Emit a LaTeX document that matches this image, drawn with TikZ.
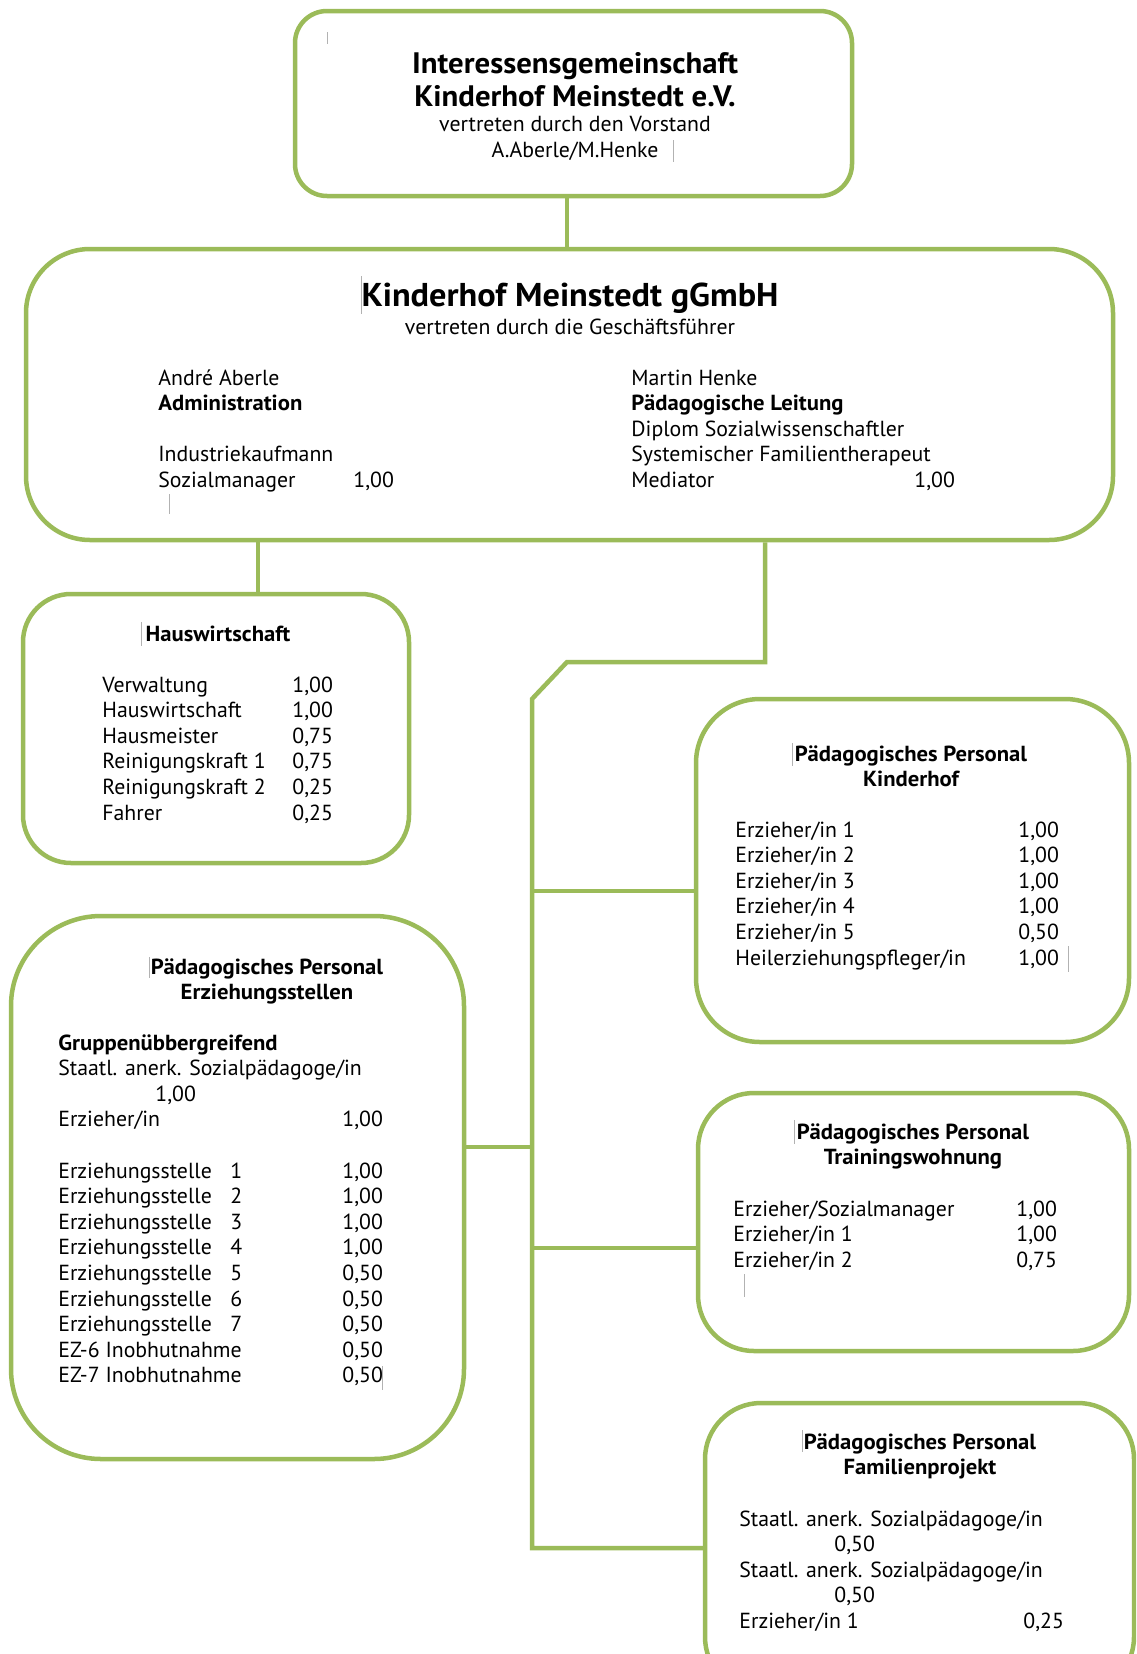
\documentclass[tikz,border=0pt]{standalone}
\usepackage{fontspec}
\setmainfont{PT Sans}[BoldFeatures={FakeStretch=1.04}]
\usetikzlibrary{fit}

\definecolor{kgreen}{HTML}{9BBB59}
\newcommand{\body}{\fontsize{10.9}{12.8}\selectfont}

\tikzset{
    box/.style={draw=kgreen, line width=2.25pt, inner sep=0pt},
    conn/.style={draw=kgreen, line width=2.25pt},
    txt/.style={inner sep=0pt, anchor=base west, font=\body},
    ctxt/.style={inner sep=0pt, anchor=base, font=\body},
    head/.style={inner sep=0pt, anchor=base, font=\body\bfseries},
    cursor/.style={draw=black!30, line width=0.4pt}
}

\begin{document}
\begin{tikzpicture}[x=0.5pt, y=-0.5pt]
        \useasboundingbox (0,0) rectangle (1136,1654);
        \clip (0,0) rectangle (1136,1654);

        % boxes
        \node[box, rounded corners=16pt, fit={(295,11) (852,196)}] (ig) {};
        \node[box, rounded corners=32pt, fit={(26,249) (1113,540)}] (gmbh) {};
        \node[box, rounded corners=24pt, fit={(23,594) (409,863)}] (haus) {};
        \node[box, rounded corners=32pt, fit={(696,699) (1129,1042)}] (kinder) {};
        \node[box, rounded corners=45pt, fit={(11,916) (464,1459)}] (erz) {};
        \node[box, rounded corners=28pt, fit={(698,1093) (1129,1351)}] (train) {};
        \node[box, rounded corners=28pt, fit={(705,1403) (1134,1693)}] (fam) {};

        % Interessensgemeinschaft
        \node[head, font=\fontsize{14.8}{16.6}\selectfont\bfseries] (igname) at (575,73) {
            \begin{tabular}[t]{@{}c@{}}
                Interessensgemeinschaft \\
                Kinderhof Meinstedt e.V.
            \end{tabular}
        };
        \node[ctxt] (igsub) at (575,131.5) {
            \begin{tabular}[t]{@{}c@{}}
                vertreten durch den Vorstand \\
                A.Aberle/M.Henke
            \end{tabular}
        };

        % gGmbH
        \node[head, font=\fontsize{16.5}{19}\selectfont\bfseries] (gmbhname) at (570,306) {Kinderhof Meinstedt gGmbH};
        \node[ctxt] (gmbhsub) at (570,334) {vertreten durch die Geschäftsführer};
        \node[txt] (aberle) at (158,385) {
            \begin{tabular}[t]{@{}p{97.5pt}@{}l@{}}
                \multicolumn{2}{@{}l@{}}{André Aberle} \\
                \multicolumn{2}{@{}l@{}}{\textbf{Administration}} \\
                & \\
                \multicolumn{2}{@{}l@{}}{Industriekaufmann} \\
                Sozialmanager & 1,00
            \end{tabular}
        };
        \node[txt] (henke) at (631,385) {
            \begin{tabular}[t]{@{}p{141.5pt}@{}l@{}}
                \multicolumn{2}{@{}l@{}}{Martin Henke} \\
                \multicolumn{2}{@{}l@{}}{\textbf{Pädagogische Leitung}} \\
                \multicolumn{2}{@{}l@{}}{Diplom Sozialwissenschaftler} \\
                \multicolumn{2}{@{}l@{}}{Systemischer Familientherapeut} \\
                Mediator & 1,00
            \end{tabular}
        };

        % Hauswirtschaft
        \node[head] (haustitle) at (218,641) {Hauswirtschaft};
        \node[txt] (hausrows) at (102,692) {
            \begin{tabular}[t]{@{}p{95pt}@{}l@{}}
                Verwaltung & 1,00 \\
                Hauswirtschaft & 1,00 \\
                Hausmeister & 0,75 \\
                Reinigungskraft 1 & 0,75 \\
                Reinigungskraft 2 & 0,25 \\
                Fahrer & 0,25
            \end{tabular}
        };

        % Kinderhof
        \node[head] (kindertitle) at (911,761) {
            \begin{tabular}[t]{@{}c@{}}
                Pädagogisches Personal \\
                Kinderhof
            \end{tabular}
        };
        \node[txt] (kinderrows) at (735,837) {
            \begin{tabular}[t]{@{}p{141.5pt}@{}l@{}}
                Erzieher/in 1 & 1,00 \\
                Erzieher/in 2 & 1,00 \\
                Erzieher/in 3 & 1,00 \\
                Erzieher/in 4 & 1,00 \\
                Erzieher/in 5 & 0,50 \\
                Heilerziehungspfleger/in & 1,00
            \end{tabular}
        };

        % Erziehungsstellen
        \node[head] (erztitle) at (267,974) {
            \begin{tabular}[t]{@{}c@{}}
                Pädagogisches Personal \\
                Erziehungsstellen
            \end{tabular}
        };
        \node[txt] (erzrows) at (58,1050) {
            \begin{tabular}[t]{@{}p{86pt}@{}p{56pt}@{}l@{}}
                \multicolumn{3}{@{}l@{}}{\textbf{Gruppenübbergreifend}} \\
                \multicolumn{3}{@{}l@{}}{Staatl. anerk. Sozialpädagoge/in} \\
                \multicolumn{3}{@{}l@{}}{\hspace{48.5pt}1,00} \\
                Erzieher/in & & 1,00 \\
                & & \\
                Erziehungsstelle & 1 & 1,00 \\
                Erziehungsstelle & 2 & 1,00 \\
                Erziehungsstelle & 3 & 1,00 \\
                Erziehungsstelle & 4 & 1,00 \\
                Erziehungsstelle & 5 & 0,50 \\
                Erziehungsstelle & 6 & 0,50 \\
                Erziehungsstelle & 7 & 0,50 \\
                \multicolumn{2}{@{}l@{}}{EZ-6 Inobhutnahme} & 0,50 \\
                \multicolumn{2}{@{}l@{}}{EZ-7 Inobhutnahme} & 0,50
            \end{tabular}
        };

        % Trainingswohnung
        \node[head] (traintitle) at (913,1139) {
            \begin{tabular}[t]{@{}c@{}}
                Pädagogisches Personal \\
                Trainingswohnung
            \end{tabular}
        };
        \node[txt] (trainrows) at (733,1216) {
            \begin{tabular}[t]{@{}p{141.5pt}@{}l@{}}
                Erzieher/Sozialmanager & 1,00 \\
                Erzieher/in 1 & 1,00 \\
                Erzieher/in 2 & 0,75
            \end{tabular}
        };

        % Familienprojekt
        \node[head] (famtitle) at (920,1449) {
            \begin{tabular}[t]{@{}c@{}}
                Pädagogisches Personal \\
                Familienprojekt
            \end{tabular}
        };
        \node[txt] (famrows) at (739,1526) {
            \begin{tabular}[t]{@{}p{142pt}@{}l@{}}
                \multicolumn{2}{@{}l@{}}{Staatl. anerk. Sozialpädagoge/in} \\
                \multicolumn{2}{@{}l@{}}{\hspace{47.5pt}0,50} \\
                \multicolumn{2}{@{}l@{}}{Staatl. anerk. Sozialpädagoge/in} \\
                \multicolumn{2}{@{}l@{}}{\hspace{47.5pt}0,50} \\
                Erzieher/in 1 & 0,25
            \end{tabular}
        };

        % connectors
        \coordinate (tc) at (567,0);
        \coordinate (lb) at (258,0);
        \coordinate (rb) at (765,0);
        \coordinate (bend) at (567,662);
        \coordinate (trunk) at (532,699);
        \coordinate (kb) at (0,891);
        \coordinate (eb) at (0,1147);
        \coordinate (tb) at (0,1248);
        \coordinate (fb) at (0,1548);

        \draw[conn] (ig.south -| tc) -- (gmbh.north -| tc);
        \draw[conn] (gmbh.south -| lb) -- (haus.north -| lb);
        \draw[conn] (gmbh.south -| rb) |- (bend) -- (trunk) -- (trunk |- fb) -- (fam.west |- fb);
        \draw[conn] (trunk |- kb) -- (kinder.west |- kb);
        \draw[conn] (erz.east |- eb) -- (trunk |- eb);
        \draw[conn] (trunk |- tb) -- (train.west |- tb);

        % cursor marks
        \foreach \x/\ya/\yb in {327/32/44, 673/140/162, 361/276/314, 169/494/514,
                141/622/646, 792/743/766, 1068/946/972, 149/957/978, 382/1366/1390,
                794/1120/1144, 744/1274/1297, 802/1430/1452} {
            \draw[cursor] (\x,\ya) -- (\x,\yb);
        }
\end{tikzpicture}
\end{document}
